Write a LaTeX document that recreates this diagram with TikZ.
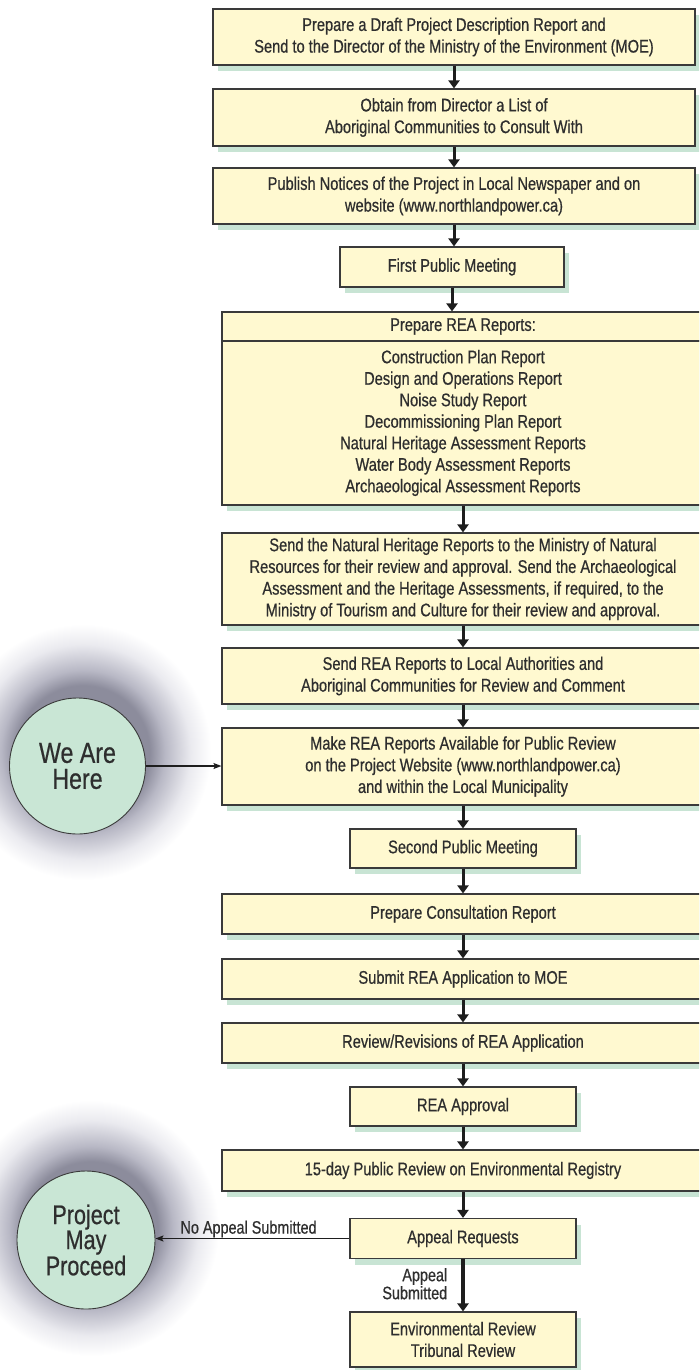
\documentclass[tikz,border=0pt]{standalone}
\usepackage{fontspec}
\setmainfont[FakeStretch=0.8,FakeBold=0.6]{Liberation Sans}
\usetikzlibrary{arrows.meta,shadows}
\definecolor{boxc}{HTML}{FFF9D0}
\definecolor{shadc}{HTML}{C8E4D4}
\definecolor{circc}{HTML}{C9E6D5}
\definecolor{linec}{HTML}{3A3A3A}
\definecolor{textc}{HTML}{2E2E2E}
\definecolor{arrc}{HTML}{1E1E1E}
\definecolor{glowc}{RGB}{140,140,156}
\definecolor{glowm}{RGB}{184,184,197}
\definecolor{glowl}{RGB}{234,234,239}
\pgfdeclareradialshading{glow}{\pgfpoint{0bp}{0bp}}{color(0bp)=(glowc); color(13bp)=(glowc); color(16bp)=(glowm); color(21bp)=(glowl); color(25bp)=(white); color(50bp)=(white)}
\begin{document}
\begin{tikzpicture}[x=1pt,y=-1pt,
  txt/.style={text=textc, font=\fontsize{18.3}{21.7}\selectfont, align=center, inner sep=0pt},
  box/.style={txt, draw=linec, line width=1.1pt, fill=boxc,
    drop shadow={shadow xshift=5pt, shadow yshift=-6pt, fill=shadc, opacity=1}},
  wide/.style={box, minimum width=482pt},
  small/.style={box, minimum width=226pt},
  circ/.style={circle, draw=linec, line width=0.9pt, fill=circc, text=textc, align=center, inner sep=0pt},
  mainarr/.style={draw=arrc, line width=3pt, -{Triangle[length=8pt,width=11pt]}},
  thinarr/.style={draw=arrc, line width=1.3pt, -{Stealth[length=8pt,width=6pt,inset=1.5pt]}},
  lab/.style={text=textc, font=\fontsize{18}{18}\selectfont, inner sep=0pt}
]
\useasboundingbox (0,0) rectangle (699,1370);
\clip (0,0) rectangle (699,1370);

% glows behind the circles
\shade[shading=glow] (83,752) circle (128pt);
\shade[shading=glow] (91,1228) circle (128pt);

% upper column
\node[wide, minimum height=56pt] (b1) at (454,37) {Prepare a Draft Project Description Report and\\Send to the Director of the Ministry of the Environment (MOE)};
\node[wide, minimum height=57pt] (b2) at (454,117.5) {Obtain from Director a List of\\Aboriginal Communities to Consult With};
\node[wide, minimum height=56pt] (b3) at (454,196) {Publish Notices of the Project in Local Newspaper and on\\website (www.northlandpower.ca)};
\node[box, minimum width=224pt, minimum height=40pt] (fpm) at (452,267) {First Public Meeting};

% REA reports box
\node[wide, minimum height=29pt] (reahead) at (463,326.5) {Prepare REA Reports:};
\node[wide, minimum height=164pt, font=\fontsize{18.3}{21.5}\selectfont] (reabody) at (463,423) {Construction Plan Report\\Design and Operations Report\\Noise Study Report\\Decommissioning Plan Report\\Natural Heritage Assessment Reports\\Water Body Assessment Reports\\Archaeological Assessment Reports};

% lower column
\node[wide, minimum height=92pt] (nh) at (463,579) {Send the Natural Heritage Reports to the Ministry of Natural\\Resources for their review and approval. Send the Archaeological\\Assessment and the Heritage Assessments, if required, to the\\Ministry of Tourism and Culture for their review and approval.};
\node[wide, minimum height=56pt] (sendrea) at (463,676) {Send REA Reports to Local Authorities and\\Aboriginal Communities for Review and Comment};
\node[wide, minimum height=77pt] (make) at (463,766.5) {Make REA Reports Available for Public Review\\on the Project Website (www.northlandpower.ca)\\and within the Local Municipality};
\node[small, minimum height=39pt] (spm) at (463,848.5) {Second Public Meeting};
\node[wide, minimum height=40pt] (consult) at (463,914) {Prepare Consultation Report};
\node[wide, minimum height=40pt] (submit) at (463,979) {Submit REA Application to MOE};
\node[wide, minimum height=40pt] (review) at (463,1043) {Review/Revisions of REA Application};
\node[small, minimum height=39pt] (approval) at (463,1106.5) {REA Approval};
\node[wide, minimum height=41pt] (fifteen) at (463,1170.5) {15-day Public Review on Environmental Registry};
\node[small, minimum height=40pt] (appeal) at (463,1238.5) {Appeal Requests};
\node[small, minimum height=55pt] (env) at (463,1339.5) {Environmental Review\\Tribunal Review};

% circles
\node[circ, minimum size=136pt, font=\fontsize{29}{26}\selectfont] (here) at (77.5,766) {We Are\\Here};
\node[circ, minimum size=138pt, font=\fontsize{27}{25}\selectfont] (proceed) at (86,1240) {Project\\May\\Proceed};

% main flow arrows
\draw[mainarr] (b1.south) -- (b2.north);
\draw[mainarr] (b2.south) -- (b3.north);
\draw[mainarr] (b3.south) -- (b3.south |- fpm.north);
\draw[mainarr] (fpm.south) -- (fpm.south |- reahead.north);
\draw[mainarr] (reabody.south) -- (nh.north);
\draw[mainarr] (nh.south) -- (sendrea.north);
\draw[mainarr] (sendrea.south) -- (make.north);
\draw[mainarr] (make.south) -- (spm.north);
\draw[mainarr] (spm.south) -- (consult.north);
\draw[mainarr] (consult.south) -- (submit.north);
\draw[mainarr] (submit.south) -- (review.north);
\draw[mainarr] (review.south) -- (approval.north);
\draw[mainarr] (approval.south) -- (fifteen.north);
\draw[mainarr] (fifteen.south) -- (appeal.north);
\draw[mainarr, line width=3.6pt] (appeal.south) -- node[lab, align=right, anchor=east, xshift=-14pt, yshift=1.5pt] {Appeal\\Submitted} (env.north);

% side arrows
\draw[thinarr] (here.east) -- (here.east -| make.west);
\draw[thinarr] (appeal.west) -- node[lab, pos=0.52, anchor=south, inner sep=0.5pt] {No Appeal Submitted} (appeal.west -| proceed.east);
\end{tikzpicture}
\end{document}
